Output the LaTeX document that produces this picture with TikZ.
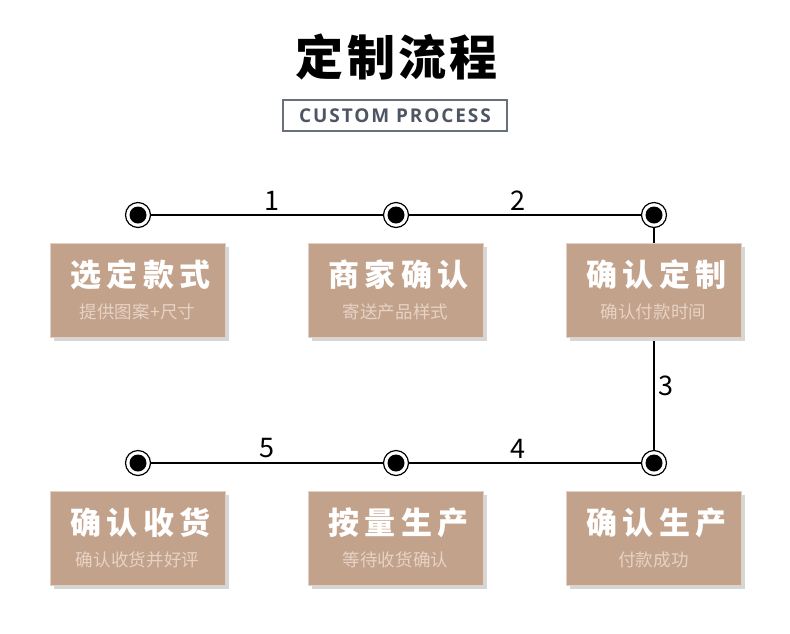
\documentclass[tikz,border=0pt]{standalone}
\usepackage{fontspec}
\setmainfont{Noto Sans CJK SC}
\newfontfamily\latinfont{Open Sans}
\usetikzlibrary{positioning, shadows, calc}

\definecolor{boxtan}{RGB}{195,162,140}
\definecolor{subtan}{RGB}{230,211,198}
\definecolor{slate}{RGB}{78,86,100}

\newcommand{\titlefont}{\fontsize{48}{50}\selectfont\bfseries\addfontfeatures{LetterSpace=7}}
\newcommand{\headfont}{\fontsize{31}{33}\selectfont\bfseries\addfontfeatures{LetterSpace=18}}
\newcommand{\subfont}{\fontsize{17.5}{19}\selectfont\addfontfeatures{LetterSpace=1}}

\begin{document}
\begin{tikzpicture}[x=1pt, y=-1pt,
    stepbox/.style={rectangle, fill=boxtan, draw=boxtan!50!white, line width=0.8pt,
      minimum width=175pt, minimum height=94pt,
      drop shadow={shadow xshift=4pt, shadow yshift=-4pt, fill=black!16, opacity=1}},
    boxtitle/.style={text=white, font=\headfont, inner sep=0pt},
    boxsub/.style={text=subtan, font=\subfont, inner sep=0pt},
    dot/.style={circle, draw=black, line width=1.2pt, fill=white, minimum size=25pt,
      inner sep=0pt, path picture={\fill[black] (path picture bounding box.center) circle (8.5pt);}},
    flow/.style={line width=1.7pt},
    num/.style={font=\fontsize{27}{28}\selectfont, inner sep=4pt}]
  \useasboundingbox[fill=white] (0,0) rectangle (790,633);
  % Heading
  \node[font=\titlefont] (title) at (397,57) {定制流程};
  \node[draw=slate!85, line width=1.2pt, text=slate, minimum width=224pt, minimum height=31pt,
    inner sep=0pt, font=\latinfont\fontsize{19}{20}\selectfont\bfseries\addfontfeatures{LetterSpace=10}]
    (sub) at (395,115.5) {CUSTOM PROCESS};
  % Dots on the path
  \node[dot] (d1) at (138,215) {};
  \node[dot] (d2) at (396,215) {};
  \node[dot] (d3) at (654,215) {};
  \node[dot] (d4) at (138,463) {};
  \node[dot] (d5) at (396,463) {};
  \node[dot] (d6) at (654,463) {};
  % Connectors with step numbers
  \draw[flow] (d1) -- node[num, above, pos=0.52] {1} (d2);
  \draw[flow] (d2) -- node[num, above, pos=0.47] {2} (d3);
  \draw[flow] (d3) -- node[num, right, pos=0.71] {3} (d6);
  \draw[flow] (d6) -- node[num, above, pos=0.53] {4} (d5);
  \draw[flow] (d5) -- node[num, above, pos=0.5] {5} (d4);
  % Step boxes
  \node[stepbox] (b1) at (137.5,290) {};
  \node[stepbox] (b2) at (395.5,290) {};
  \node[stepbox] (b3) at (653.5,290) {};
  \node[stepbox] (b4) at (137.5,538) {};
  \node[stepbox] (b5) at (395.5,538) {};
  \node[stepbox] (b6) at (653.5,538) {};
  % Box texts
  \node[boxtitle] at ([xshift=3pt, yshift=15pt]b1.center) {选定款式};
  \node[boxsub] at ([yshift=-22pt]b1.center) {提供图案+尺寸};
  \node[boxtitle] at ([xshift=3pt, yshift=15pt]b2.center) {商家确认};
  \node[boxsub] at ([yshift=-22pt]b2.center) {寄送产品样式};
  \node[boxtitle] at ([xshift=3pt, yshift=15pt]b3.center) {确认定制};
  \node[boxsub] at ([yshift=-22pt]b3.center) {确认付款时间};
  \node[boxtitle] at ([xshift=3pt, yshift=15pt]b4.center) {确认收货};
  \node[boxsub] at ([yshift=-22pt]b4.center) {确认收货并好评};
  \node[boxtitle] at ([xshift=3pt, yshift=15pt]b5.center) {按量生产};
  \node[boxsub] at ([yshift=-22pt]b5.center) {等待收货确认};
  \node[boxtitle] at ([xshift=3pt, yshift=15pt]b6.center) {确认生产};
  \node[boxsub] at ([yshift=-22pt]b6.center) {付款成功};
\end{tikzpicture}
\end{document}
